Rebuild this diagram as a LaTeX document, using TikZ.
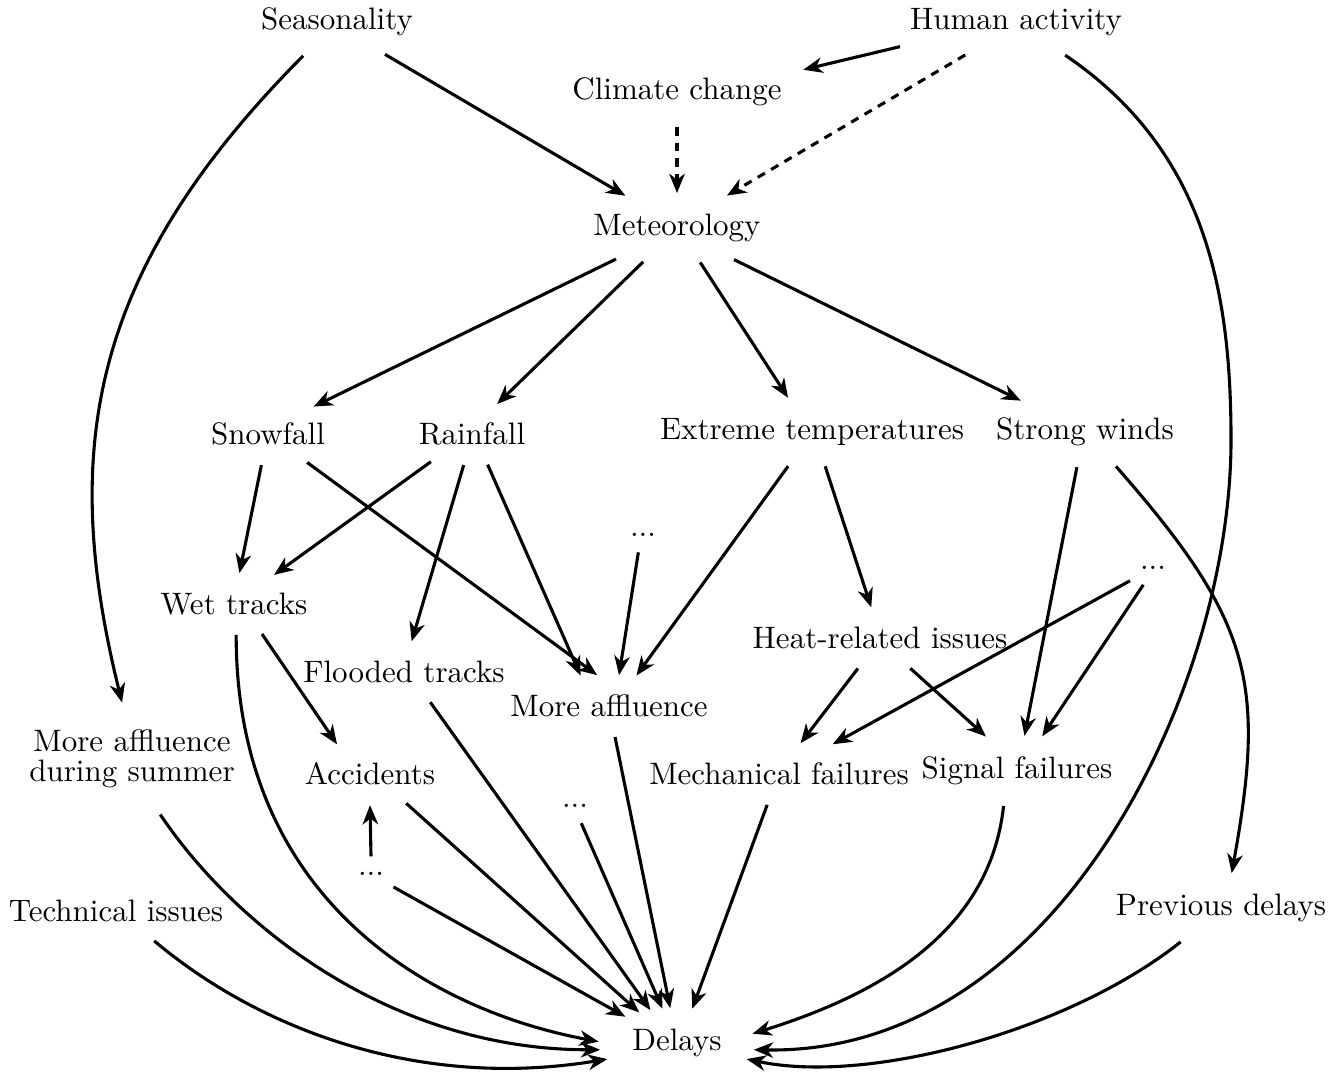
\documentclass[tikz,border=0pt]{standalone}
\usetikzlibrary{shapes.geometric,arrows.meta}
\begin{document}
\begin{tikzpicture}[x=0.3226pt,y=-0.3226pt,
  lab/.style={ellipse, inner sep=0.3333em},
  arr/.style={-{Stealth[length=6.2pt,width=5pt,inset=1.9pt]}, line width=1pt},
  dasharr/.style={arr, dash pattern=on 2.7pt off 2.3pt}]
\useasboundingbox (0,0) rectangle (1343,1077);
% nodes
\node[lab] (seas) at (337,22) {Seasonality};
\node[lab] (human) at (1016,22) {Human activity};
\node[lab] (climate) at (677,92) {Climate change};
\node[lab] (meteo) at (677,228) {Meteorology};
\node[lab] (snow) at (268,434) {Snowfall};
\node[lab] (rain) at (472,434) {Rainfall};
\node[lab] (extreme) at (812,432) {Extreme temperatures};
\node[lab] (winds) at (1085,432) {Strong winds};
\node[lab] (dotsA) at (643,535) {...};
\node[lab] (dotsB) at (1153,568) {...};
\node[lab] (wet) at (234,604) {Wet tracks};
\node[lab] (flooded) at (404,672) {Flooded tracks};
\node[lab] (heat) at (880,638) {Heat-related issues};
\node[lab] (affl) at (609,706) {More affluence};
\node[lab, align=center] (summer) at (132,759) {More affluence\\[-2.3pt]during summer};
\node[lab] (acc) at (370,774) {Accidents};
\node[lab] (mech) at (779,774) {Mechanical failures};
\node[lab] (signal) at (1017,771) {Signal failures};
\node[lab] (dotsC) at (575,806) {...};
\node[lab] (dotsD) at (371,874) {...};
\node[lab] (tech) at (116,911) {Technical issues};
\node[lab] (prev) at (1221,908) {Previous delays};
\node[lab] (delays) at (677,1043) {Delays};
\coordinate (hmid) at (1231,440);
% straight connectors
\draw[arr] (seas.-34) -- (meteo.148);
\draw[arr] (human.-168) -- (climate.10);
\draw[dasharr] (human.-147) -- (meteo.33);
\draw[dasharr] (climate.-90) -- (meteo.90);
\draw[arr] (meteo.-153) -- (snow.31);
\draw[arr] (meteo.-135) -- (rain.50);
\draw[arr] (meteo.-56) -- (extreme.125);
\draw[arr] (meteo.-29) -- (winds.154);
\draw[arr] (snow.-102) -- (wet.80);
\draw[arr] (snow.-36) -- (affl.111);
\draw[arr] (rain.-146) -- (wet.36);
\draw[arr] (rain.-105) -- (flooded.76);
\draw[arr] (rain.-63) -- (affl.133);
\draw[arr] (dotsA.-105) -- (affl.72);
\draw[arr] (extreme.-125) -- (affl.48);
\draw[arr] (extreme.-69) -- (heat.106);
\draw[arr] (winds.-103) -- (signal.78);
\draw[arr] (dotsB.-151) -- (mech.29);
\draw[arr] (dotsB.-120) -- (signal.54);
\draw[arr] (heat.-126) -- (mech.55);
\draw[arr] (heat.-45) -- (signal.132);
\draw[arr] (wet.-47) -- (acc.138);
\draw[arr] (dotsD.90) -- (acc.-90);
\draw[arr] (flooded.-49) -- (delays.129);
\draw[arr] (affl.-79) -- (delays.101);
\draw[arr] (acc.-39) -- (delays.141);
\draw[arr] (dotsC.-70) -- (delays.113);
\draw[arr] (dotsD.-30) -- (delays.153);
\draw[arr] (mech.-111) -- (delays.66);
% curved connectors
\draw[arr] (seas.-135) .. controls (88,272) and (60,452) .. (summer.100);
\draw[arr] (human.-34) .. controls (1205,150) and (1231,290) .. (hmid)
   .. controls (1231,690) and (1057,1055) .. (delays.-5);
\draw[arr] (winds.-48) .. controls (1252,621) and (1266,683) .. (prev.73);
\draw[arr] (wet.-86) .. controls (236,900) and (430,1010) .. (delays.179);
\draw[arr] (summer.-63) .. controls (240,933) and (398,1050) .. (delays.185);
\draw[arr] (tech.-38) .. controls (260,1030) and (420,1090) .. (delays.193);
\draw[arr] (signal.-111) .. controls (990,930) and (883,993) .. (delays.7);
\draw[arr] (prev.-140) .. controls (1070,1030) and (870,1085) .. (delays.-13);
\end{tikzpicture}
\end{document}
